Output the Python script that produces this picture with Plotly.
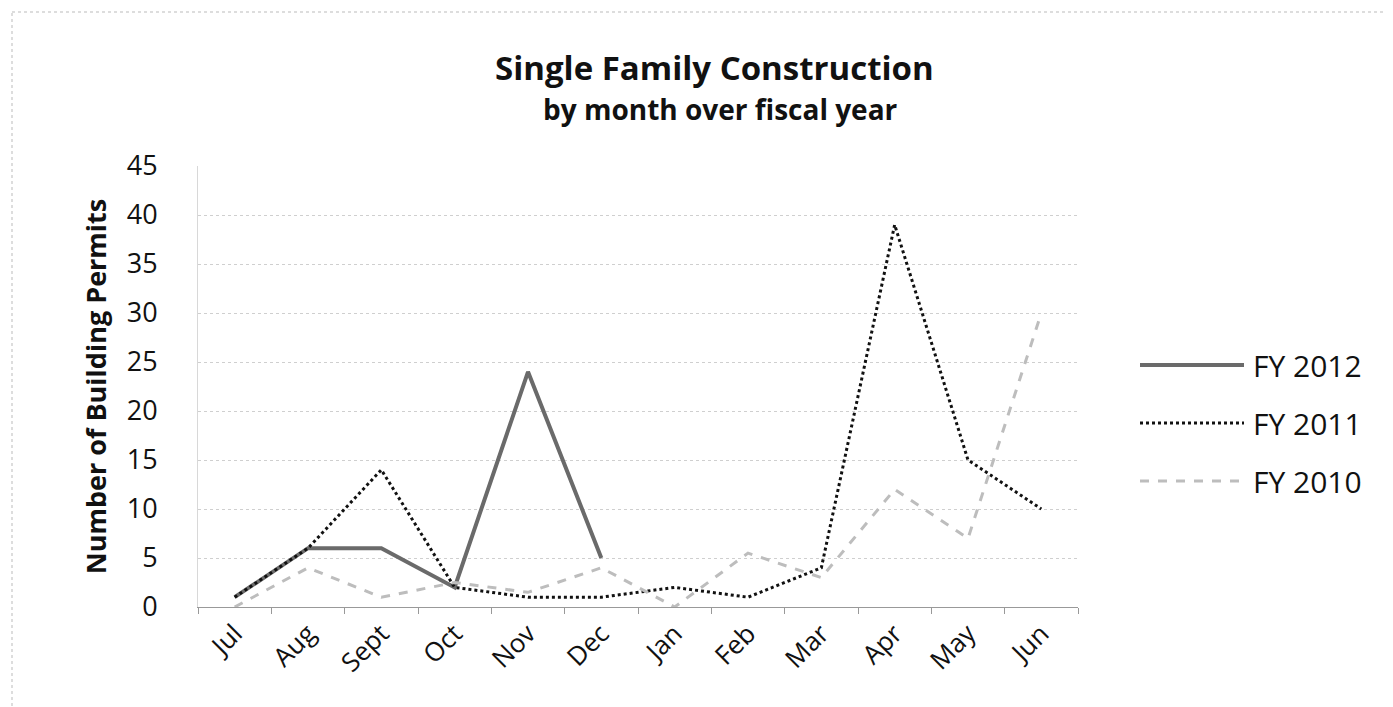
import plotly.graph_objects as go

months = ["Jul", "Aug", "Sept", "Oct", "Nov", "Dec", "Jan", "Feb", "Mar", "Apr", "May", "Jun"]
fy2012 = [1, 6, 6, 2, 24, 5]
fy2011 = [1, 6, 14, 2, 1, 1, 2, 1, 4, 39, 15, 10]
fy2010 = [0, 4, 1, 2.5, 1.5, 4, 0, 5.5, 3, 12, 7, 30]
series_names = ["FY 2012", "FY 2011", "FY 2010"]
y_ticks = [0, 5, 10, 15, 20, 25, 30, 35, 40, 45]

FONT = "'Open Sans', sans-serif"
W, H = 1393, 707
L, R, T, B = 190, 323, 158, 108
PW = W - L - R
PH = H - T - B

styles = [
    dict(color="#6a6a6a", width=4, dash="solid"),
    dict(color="#111111", width=3, dash="dot"),
    dict(color="#bdbdbd", width=3, dash="dash"),
]
data = [fy2012, fy2011, fy2010]

fig = go.Figure()
for name, vals, st in zip(series_names, data, styles):
    fig.add_trace(go.Scatter(x=months[:len(vals)], y=vals, mode="lines", name=name,
                             line=st, showlegend=False))

def px2x(px):
    return (px - L) / PW

def px2y(py):
    return (H - B - py) / PH

shapes = []
annotations = []
legend_y = [357, 415, 473]
for name, st, ly in zip(series_names, styles, legend_y):
    shapes.append(dict(type="line", xref="paper", yref="paper",
                       x0=px2x(1132), x1=px2x(1236), y0=px2y(ly), y1=px2y(ly),
                       line=st))
    annotations.append(dict(text=name, xref="paper", yref="paper", x=px2x(1243), y=px2y(ly),
                            xanchor="left", yanchor="middle", showarrow=False,
                            font=dict(family=FONT, size=30, color="#111111")))

# outer chart border
shapes.append(dict(type="rect", xref="paper", yref="paper",
                   x0=px2x(4), x1=px2x(1389), y0=px2y(4), y1=px2y(703),
                   line=dict(color="#bbbbbb", width=1, dash="dot"), layer="below"))

annotations.append(dict(text="<b>Single Family Construction</b>", xref="paper", yref="paper",
                        x=px2x(706), y=px2y(60), xanchor="center", yanchor="middle",
                        showarrow=False, font=dict(family=FONT, size=33, color="#111111")))
annotations.append(dict(text="<b>by month over fiscal year</b>", xref="paper", yref="paper",
                        x=px2x(712), y=px2y(101), xanchor="center", yanchor="middle",
                        showarrow=False, font=dict(family=FONT, size=28, color="#111111")))

fig.update_layout(
    width=W, height=H,
    margin=dict(l=L, r=R, t=T, b=B),
    paper_bgcolor="white", plot_bgcolor="white",
    font=dict(family=FONT, color="#111111"),
    shapes=shapes,
    annotations=annotations,
)
fig.update_xaxes(type="category", categoryorder="array", categoryarray=months,
                 range=[-0.5, 11.5], tickson="boundaries", ticks="outside", ticklen=6,
                 tickcolor="#999999", showline=True, linecolor="#999999", linewidth=1,
                 showgrid=False, tickangle=-45,
                 tickfont=dict(family=FONT, size=26, color="#111111"))
fig.update_yaxes(range=[0, 45], tickvals=y_ticks, showgrid=True, gridcolor="#cfcfcf",
                 gridwidth=1, griddash="dot", zeroline=False, showline=True,
                 linecolor="#d8d8d8", linewidth=1,
                 ticks="", ticklabelstandoff=34,
                 tickfont=dict(family=FONT, size=27, color="#111111"),
                 title=dict(text="<b>Number of Building Permits</b>", standoff=12,
                            font=dict(family=FONT, size=27, color="#111111")))

fig.write_html("out.html")
